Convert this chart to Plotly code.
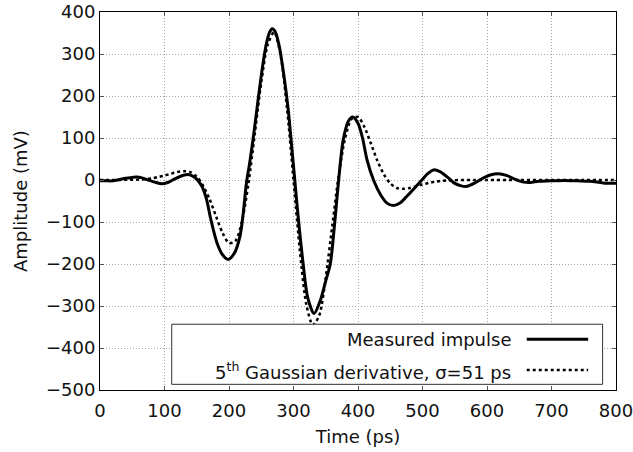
import plotly.graph_objects as go

# Measured impulse (solid)
meas_t = [0, 10, 20, 30, 40, 50, 57, 65, 75, 85, 96, 105, 115, 125, 135, 143, 150, 158, 165, 172,
          181, 190, 199, 208, 217, 222, 227, 232, 238, 245, 252, 258, 263, 267, 272, 278, 285, 292,
          296, 302, 308, 315, 322, 332, 342, 350, 357, 364, 370, 377, 385, 392, 400, 407, 414, 424,
          435, 445, 455, 465, 475, 486, 499, 508, 517, 527, 540, 550, 560, 569, 580, 592, 605, 618,
          630, 645, 657, 667, 680, 698, 720, 740, 760, 780, 800]
meas_v = [-2, -2, -2, 1, 4, 6, 7, 5, 0, -5, -9, -6, 2, 9, 13, 10, 2, -15, -45, -95,
          -148, -178, -189, -175, -134, -80, -7, 40, 105, 190, 270, 325, 352, 360, 352, 318, 250, 165,
          100, 0, -100, -200, -280, -318, -285, -240, -200, -100, 0, 95, 140, 150, 135, 100, 48, 0,
          -35, -55, -61, -55, -40, -22, 0, 15, 24, 20, 5, -8, -14, -15, -8, 3, 12, 15,
          11, 1, -5, -6, -3, -2, -1, -2, -3, -7, -8]

# 5th Gaussian derivative, sigma = 51 ps (dotted)
gauss_t = [0, 10, 20, 30, 40, 50, 60, 70, 80, 90, 100, 110, 120, 130, 140, 150, 160, 170, 180, 190,
           200, 210, 220, 230, 240, 250, 260, 270, 280, 290, 300, 310, 320, 330, 340, 350, 360, 370,
           380, 390, 400, 410, 420, 430, 440, 450, 460, 470, 480, 490, 500, 510, 520, 530, 540, 550,
           560, 580, 600, 650, 700, 750, 800]
gauss_v = [0, 0, 0, 0, 0.3, 0.6, 1, 2, 4, 7, 10.6, 15, 19, 21, 18.7, 8, -14, -46, -87, -126,
           -150, -145, -99, -10, 110, 232, 322, 352, 297, 170, 0, -170, -297, -345, -322, -232, -110, 10,
           99, 145, 150, 126, 87, 46, 14, -8, -19, -21, -19, -15, -10.6, -7, -4, -2, -1, -0.6,
           0, 0, 0, 0, 0, 0, 0]

x_ticks = [0, 100, 200, 300, 400, 500, 600, 700, 800]
y_ticks = [-500, -400, -300, -200, -100, 0, 100, 200, 300, 400]

FONT = "DejaVu Sans, Liberation Sans, Arial, sans-serif"
TXT = "#111"
FS = 18

fig = go.Figure()
fig.add_trace(go.Scatter(x=gauss_t, y=gauss_v, mode="lines",
                         line=dict(color="black", width=2.5, dash="dot", shape="spline", smoothing=0.8),
                         name="5<sup>th</sup> Gaussian derivative, σ=51 ps"))
fig.add_trace(go.Scatter(x=meas_t, y=meas_v, mode="lines",
                         line=dict(color="black", width=3, shape="spline", smoothing=0.8),
                         name="Measured impulse"))

axis_common = dict(showline=True, linecolor="black", linewidth=1, mirror="ticks",
                   ticks="inside", ticklen=4, tickcolor="#555",
                   showgrid=True, gridcolor="#a8a8a8", gridwidth=1, griddash="1px,2px",
                   zeroline=False, tickfont=dict(size=FS, color=TXT, family=FONT),
                   ticklabeloverflow="allow", automargin=False)

fig.update_xaxes(range=[0, 800], tickvals=x_ticks, ticklabelstandoff=4, **axis_common,
                 title=dict(text="Time (ps)", font=dict(size=FS, color=TXT, family=FONT), standoff=10))
fig.update_yaxes(range=[-500, 400], tickvals=y_ticks,
                 ticktext=[str(v).replace("-", "\u2212") for v in y_ticks], **axis_common)

# Y axis title placed explicitly
fig.add_annotation(xref="paper", yref="paper", x=-0.155, y=0.5, xanchor="center", yanchor="middle",
                   text="Amplitude (mV)", textangle=-90, showarrow=False,
                   font=dict(size=FS, color=TXT, family=FONT))

# Custom legend (text on left, line sample on right)
fig.add_shape(type="rect", xref="paper", yref="paper", x0=0.139, x1=0.974, y0=0.015, y1=0.174,
              line=dict(color="#333", width=1), fillcolor="white", layer="above")
fig.add_shape(type="line", xref="paper", yref="paper", x0=0.827, x1=0.946, y0=0.134, y1=0.134,
              line=dict(color="black", width=3), layer="above")
fig.add_shape(type="line", xref="paper", yref="paper", x0=0.827, x1=0.946, y0=0.053, y1=0.053,
              line=dict(color="black", width=2.5, dash="dot"), layer="above")
fig.add_annotation(xref="paper", yref="paper", x=0.800, y=0.134, xanchor="right", yanchor="middle",
                   text="Measured impulse", showarrow=False,
                   font=dict(size=FS, color=TXT, family=FONT))
fig.add_annotation(xref="paper", yref="paper", x=0.800, y=0.050, xanchor="right", yanchor="middle",
                   text="5<sup>th</sup> Gaussian derivative, σ=51 ps", showarrow=False,
                   font=dict(size=FS, color=TXT, family=FONT))

fig.update_layout(width=633, height=452, showlegend=False,
                  paper_bgcolor="white", plot_bgcolor="white",
                  margin=dict(l=100, r=17, t=12, b=62),
                  font=dict(family=FONT))

fig.write_html("out.html")
